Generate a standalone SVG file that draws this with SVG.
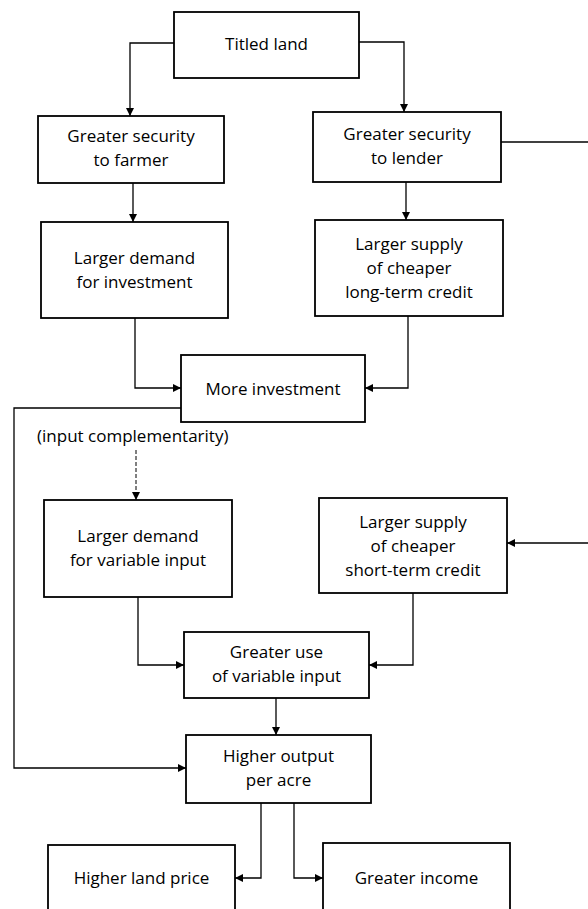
<svg xmlns="http://www.w3.org/2000/svg" width="588" height="909" viewBox="0 0 588 909">
<style>
.box{fill:#fff;stroke:#000;stroke-width:1.8}
.t{font-family:"Open Sans","Noto Sans",sans-serif;font-size:17px;fill:#000;text-anchor:middle}
.c{fill:none;stroke:#000;stroke-width:1.3}
.d{stroke-dasharray:4 2;stroke-width:1}
</style>
<defs>
<marker id="ah" viewBox="0 0 10 10" refX="10" refY="5" markerWidth="10" markerHeight="8" markerUnits="userSpaceOnUse" orient="auto">
<path d="M0,0 L10,5 L0,10 z" fill="#000"/>
</marker>
</defs>
<rect width="588" height="909" fill="#fff"/>
<g id="connectors">
<path class="c" d="M174,43 H130 V116" marker-end="url(#ah)"/>
<path class="c" d="M359,42 H404 V112" marker-end="url(#ah)"/>
<path class="c" d="M501,142 H588"/>
<path class="c" d="M133,183 V222" marker-end="url(#ah)"/>
<path class="c" d="M406,182 V220" marker-end="url(#ah)"/>
<path class="c" d="M135,318 V388 H181" marker-end="url(#ah)"/>
<path class="c" d="M408,316 V388 H365" marker-end="url(#ah)"/>
<path class="c" d="M181,408 H14 V768 H186" marker-end="url(#ah)"/>
<path class="c d" d="M136,450 V500" marker-end="url(#ah)"/>
<path class="c" d="M588,543 H507" marker-end="url(#ah)"/>
<path class="c" d="M138,597 V665 H184" marker-end="url(#ah)"/>
<path class="c" d="M413,593 V665 H369" marker-end="url(#ah)"/>
<path class="c" d="M276,698 V735" marker-end="url(#ah)"/>
<path class="c" d="M261,803 V878 H235" marker-end="url(#ah)"/>
<path class="c" d="M294,803 V878 H323" marker-end="url(#ah)"/>
</g>
<g id="titled-land"><rect class="box" x="174" y="12" width="185" height="66"/><text class="t" x="266.5" y="50">Titled land</text></g>
<g id="security-farmer"><rect class="box" x="38" y="116" width="186" height="67"/><text class="t" x="131" y="142">Greater security</text><text class="t" x="131" y="166">to farmer</text></g>
<g id="security-lender"><rect class="box" x="313" y="112" width="188" height="70"/><text class="t" x="407" y="140">Greater security</text><text class="t" x="407" y="164">to lender</text></g>
<g id="demand-investment"><rect class="box" x="41" y="222" width="187" height="96"/><text class="t" x="134.5" y="264">Larger demand</text><text class="t" x="134.5" y="288">for investment</text></g>
<g id="long-term-credit"><rect class="box" x="315" y="220" width="188" height="96"/><text class="t" x="409" y="250">Larger supply</text><text class="t" x="409" y="274">of cheaper</text><text class="t" x="409" y="298">long-term credit</text></g>
<g id="more-investment"><rect class="box" x="181" y="355" width="184" height="67"/><text class="t" x="273" y="394.5">More investment</text></g>
<g id="complementarity-label"><text class="t" x="37" y="442" style="text-anchor:start">(input complementarity)</text></g>
<g id="demand-variable"><rect class="box" x="44" y="500" width="188" height="97"/><text class="t" x="138" y="542">Larger demand</text><text class="t" x="138" y="566">for variable input</text></g>
<g id="short-term-credit"><rect class="box" x="319" y="498" width="188" height="95"/><text class="t" x="413" y="527.5">Larger supply</text><text class="t" x="413" y="551.5">of cheaper</text><text class="t" x="413" y="575.5">short-term credit</text></g>
<g id="greater-use"><rect class="box" x="184" y="632" width="185" height="66"/><text class="t" x="276.5" y="658">Greater use</text><text class="t" x="276.5" y="682">of variable input</text></g>
<g id="higher-output"><rect class="box" x="186" y="735" width="185" height="68"/><text class="t" x="278.5" y="762">Higher output</text><text class="t" x="278.5" y="786">per acre</text></g>
<g id="land-price"><rect class="box" x="48" y="845" width="187" height="80"/><text class="t" x="141.5" y="884">Higher land price</text></g>
<g id="greater-income"><rect class="box" x="323" y="843" width="187" height="80"/><text class="t" x="416.5" y="884">Greater income</text></g>
</svg>
